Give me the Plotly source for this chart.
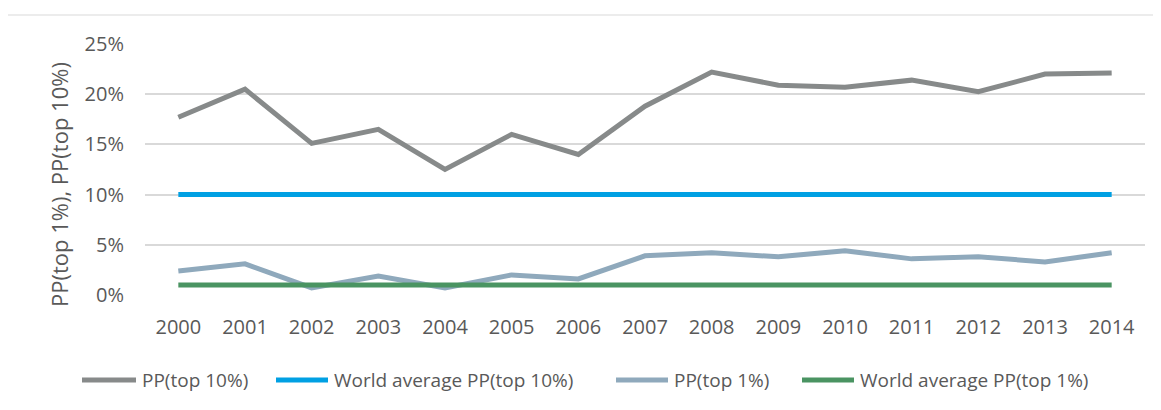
import plotly.graph_objects as go

years = [str(y) for y in range(2000, 2015)]
pp_top10 = [17.7, 20.5, 15.1, 16.5, 12.5, 16.0, 14.0, 18.8, 22.2, 20.9, 20.7, 21.4, 20.25, 22.0, 22.1]
world_top10 = [10.0] * 15
pp_top1 = [2.4, 3.1, 0.7, 1.9, 0.7, 2.0, 1.6, 3.9, 4.2, 3.8, 4.4, 3.6, 3.8, 3.3, 4.2]
world_top1 = [1.0] * 15
y_ticks = [0, 5, 10, 15, 20, 25]
y_tick_labels = ["0%", "5%", "10%", "15%", "20%", "25%"]
y_title = "PP(top 1%), PP(top 10%)"

series_names = ["PP(top 10%)", "World average PP(top 10%)", "PP(top 1%)", "World average PP(top 1%)"]
series_values = [pp_top10, world_top10, pp_top1, world_top1]
series_colors = ["#878A8A", "#00A0E3", "#8FA9BC", "#4A9462"]

fig = go.Figure()
for name, vals, color in zip(series_names, series_values, series_colors):
    fig.add_trace(go.Scatter(
        x=years, y=vals, name=name, mode="lines",
        line=dict(color=color, width=5),
    ))

# page has an 8px body margin; figure sized to fill the rest of the window
OFF = 8
FW, FH = 1161 - OFF, 410 - OFF
# Plot area in page pixels: left 145, width 1000, top 44, height 251
L, W, T, H = 145 - OFF, 1000, 44 - OFF, 251
def px_x(px):
    return (px - OFF - L) / W
def px_y(py):
    return (T + H - (py - OFF)) / H

shapes = [
    dict(type="line", xref="paper", yref="paper", x0=px_x(7), x1=px_x(1170),
         y0=px_y(15), y1=px_y(15), line=dict(color="#D9D9D9", width=1)),
    dict(type="line", xref="paper", yref="paper", x0=px_x(7), x1=px_x(7),
         y0=px_y(15), y1=px_y(420), line=dict(color="#D9D9D9", width=1)),
]
annotations = [
    dict(xref="paper", yref="paper", x=px_x(59), y=px_y(185), xanchor="center", yanchor="middle",
         textangle=-90, showarrow=False, text=y_title, font=dict(size=22, color="#595959")),
]
# legend drawn manually (Excel style long line symbols)
legend_sym = [(80, 138), (274, 330), (614, 670), (800, 856)]
legend_y = 380
for (s0, s1), name, color in zip(legend_sym, series_names, series_colors):
    shapes.append(dict(type="line", xref="paper", yref="paper",
                       x0=px_x(s0 + 2), x1=px_x(s1 - 2), y0=px_y(legend_y), y1=px_y(legend_y),
                       line=dict(color=color, width=5)))
    annotations.append(dict(xref="paper", yref="paper", x=px_x(s1 + 2), y=px_y(legend_y),
                            xanchor="left", yanchor="middle", showarrow=False,
                            text=name, font=dict(size=19, color="#595959")))

font_family = "Open Sans, Noto Sans, sans-serif"
fig.update_layout(
    width=FW, height=FH,
    margin=dict(l=L, r=FW - L - W, t=T, b=FH - T - H, autoexpand=False),
    paper_bgcolor="white", plot_bgcolor="white",
    font=dict(family=font_family, color="#595959", size=20),
    showlegend=False,
    xaxis=dict(
        type="category", showgrid=False, zeroline=False, showline=False,
        ticks="", tickfont=dict(size=20, color="#595959"),
        range=[-0.5, 14.5], automargin=False, ticklabelstandoff=18,
    ),
    yaxis=dict(
        range=[0, 25], tickvals=y_ticks, ticktext=y_tick_labels,
        showgrid=True, gridcolor="#D9D9D9", gridwidth=1.5, zeroline=False,
        showline=False, ticks="", ticklabelstandoff=20, automargin=False,
        tickfont=dict(size=20, color="#595959"),
    ),
    shapes=shapes,
    annotations=annotations,
)

fig.write_html("out.html")
